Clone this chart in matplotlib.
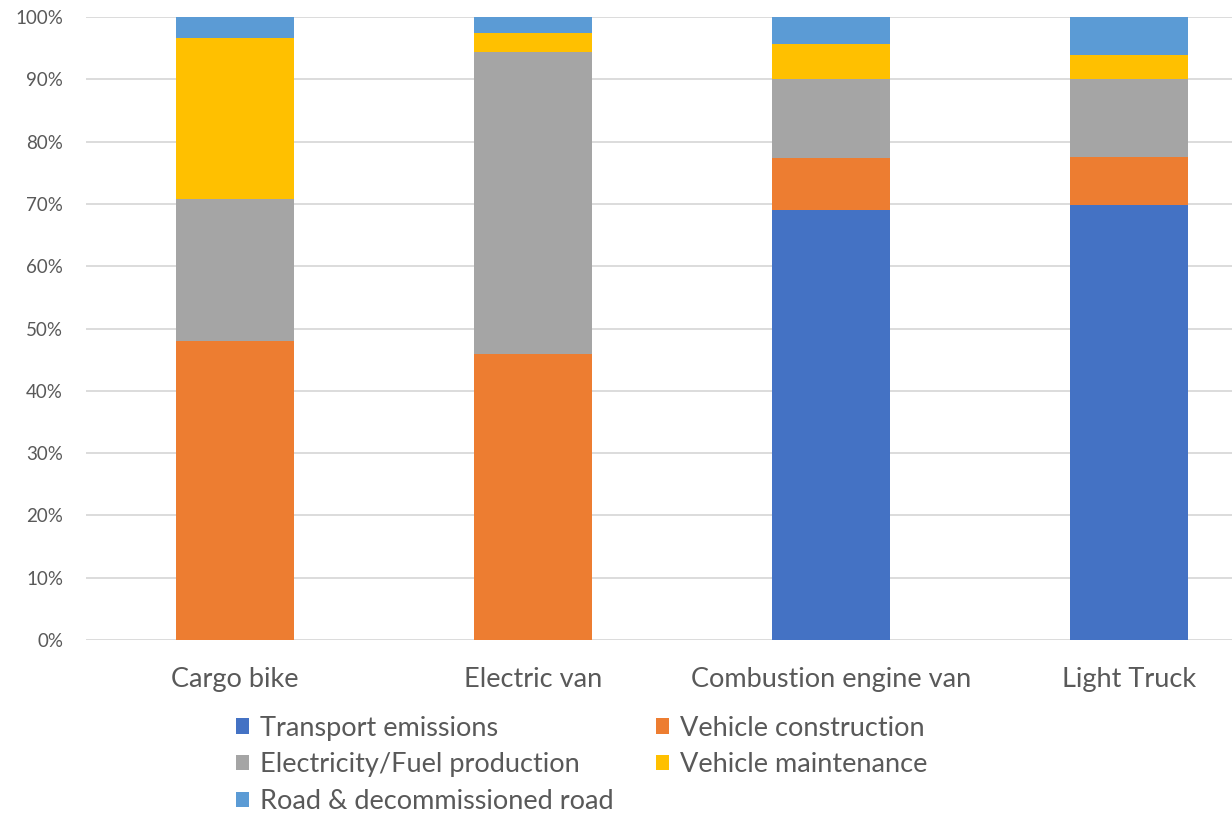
import matplotlib
matplotlib.use("Agg")
import matplotlib.pyplot as plt
import numpy as np

plt.rcParams['font.family'] = ['Lato', 'DejaVu Sans']

categories = ["Cargo bike", "Electric van", "Combustion engine van", "Light Truck"]
series_names = ["Transport emissions", "Vehicle construction", "Electricity/Fuel production",
                "Vehicle maintenance", "Road & decommissioned road"]
transport = [0.0, 0.0, 69.0, 69.9]
construction = [48.0, 45.9, 8.3, 7.7]
electricity = [22.8, 48.5, 12.7, 12.4]
maintenance = [25.8, 3.1, 5.7, 3.9]
road = [3.4, 2.5, 4.3, 6.1]
yticks = [0, 10, 20, 30, 40, 50, 60, 70, 80, 90, 100]
ytick_labels = [f"{v}%" for v in yticks]

colors = ["#4472C4", "#ED7D31", "#A5A5A5", "#FFC000", "#5B9BD5"]
data = [transport, construction, electricity, maintenance, road]

fig = plt.figure(figsize=(12.32, 8.18), dpi=100)
W, H = 1232, 818
ax = fig.add_axes([86 / W, (H - 640) / H, 1192 / W, (640 - 17) / H])

x = np.arange(len(categories))
bottom = np.zeros(len(categories))
handles = []
for name, vals, c in zip(series_names, data, colors):
    vals = np.array(vals)
    b = ax.bar(x, vals, 0.393, bottom=bottom, color=c, label=name, zorder=3)
    handles.append(b)
    bottom += vals

ax.set_xlim(-0.5, len(categories) - 0.5)
ax.set_ylim(0, 100)
ax.set_yticks(yticks)
ax.set_yticklabels(ytick_labels)
ax.set_xticks(x)
ax.set_xticklabels(categories)
ax.grid(axis='y', color='#d9d9d9', linewidth=1.3, zorder=0)
for s in ax.spines.values():
    s.set_visible(False)
ax.tick_params(axis='both', length=0, colors='#595959')
ax.tick_params(axis='y', labelsize=13.5, pad=16.5)
ax.tick_params(axis='x', labelsize=19.5, pad=19.5)

order = [0, 2, 4, 1, 3]
leg = fig.legend([handles[i] for i in order], [series_names[i] for i in order],
                 ncol=2, loc='upper left', bbox_to_anchor=(222 / W, 1 - 702 / H),
                 frameon=False, fontsize=19.5, handlelength=0.5, handleheight=0.5,
                 handletextpad=0.4, columnspacing=1.55, labelspacing=0.43,
                 labelcolor='#595959', borderpad=0)

fig.savefig("out.png", dpi=100)
